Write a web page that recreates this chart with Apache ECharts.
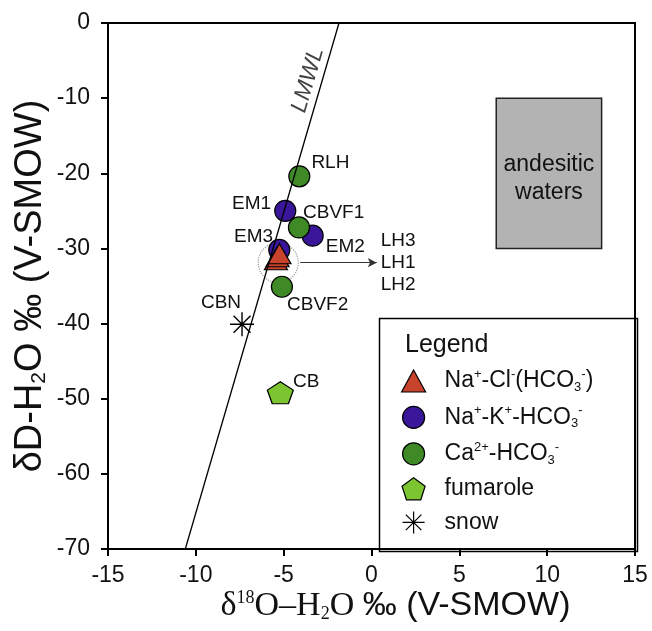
<!doctype html>
<html lang="en">
  <head>
    <meta charset="UTF-8" />
    <title>dD vs d18O</title>
    <script src="https://cdn.jsdelivr.net/npm/echarts@6/dist/echarts.min.js"></script>
    <style>
      html, body { margin: 0; background: #fff; }
      #chart { width: 652px; height: 631px; }
    </style>
  </head>
  <body>
    <div id="chart"></div>
    <script>
      // samples: [d18O, dD, name], listed in drawing order
      const naCl = [[-5.44, -31.5, 'LH2'], [-5.35, -31.1, 'LH1'], [-5.24, -30.7, 'LH3']];
      const naK = [[-4.91, -25.0, 'EM1'], [-3.35, -28.3, 'EM2'], [-5.25, -30.2, 'EM3']];
      const caHco3 = [[-4.11, -20.4, 'RLH'], [-4.13, -27.2, 'CBVF1'], [-5.1, -35.1, 'CBVF2']];
      const fumarole = [[-5.19, -49.2, 'CB']];
      const snow = [[-7.37, -40.1, 'CBN']];

      // local meteoric water line end points
      const lmwl = [[-10.6, -70], [-1.85, 0]];
      const lmwlLabelAt = [-3.62, -7.6];
      // andesitic waters field
      const andesiticX = [7.1, 13.1];
      const andesiticY = [-30, -10];
      // the circled LH cluster and its arrow
      const lhCircle = [-5.31, -31.9];
      const lhArrow = [[-4.06, -31.9], [0.3, -31.9]];
      const lhNames = ['LH3', 'LH1', 'LH2'];

      const xRange = [-15, 15, 5];
      const yRange = [-70, 0, 10];

      const FONT = 'Liberation Sans, Arial, sans-serif';
      const SERIF = 'Liberation Serif, Times New Roman, serif';

      // where each sample name sits around its marker
      const labelPlace = {
        RLH: { position: 'right', distance: 1, offset: [0, -14] },
        EM1: { position: 'left', distance: 3, offset: [0, -7] },
        CBVF1: { position: 'right', distance: 5, offset: [-12, -15] },
        EM2: { position: 'right', distance: 5, offset: [-3, 11] },
        EM3: { position: 'left', distance: 5, offset: [10, -13] },
        CBVF2: { position: 'right', distance: 5, offset: [-11, 18] },
        CBN: { position: 'top', distance: 5, offset: [-21, 6] },
        CB: { position: 'right', distance: 5, offset: [-6, -11] },
      };

      const toPoints = (arr) =>
        arr.map((d) => ({
          name: d[2],
          value: [d[0], d[1]],
          label: labelPlace[d[2]] ? Object.assign({ show: true }, labelPlace[d[2]]) : { show: false },
        }));

      const pointLabel = { formatter: '{b}', fontSize: 19, color: '#111', fontFamily: FONT };
      const border = { borderColor: '#000', borderWidth: 1.2, opacity: 1 };

      const rich = {
        t: { fontSize: 23, lineHeight: 26, color: '#111', fontFamily: FONT },
        sup: { fontSize: 13, lineHeight: 13, verticalAlign: 'top', color: '#111', fontFamily: FONT },
        sub: { fontSize: 13, lineHeight: 13, verticalAlign: 'bottom', color: '#111', fontFamily: FONT },
      };
      const legendText = {
        naCl: '{t|Na}{sup|+}{t|-Cl}{sup|-}{t|(HCO}{sub|3}{sup|-}{t|)}',
        naK: '{t|Na}{sup|+}{t|-K}{sup|+}{t|-HCO}{sub|3}{sup|-}',
        ca: '{t|Ca}{sup|2+}{t|-HCO}{sub|3}{sup|-}',
        fumarole: '{t|fumarole}',
        snow: '{t|snow}',
      };

      const chart = echarts.init(document.getElementById('chart'));
      chart.setOption({
        animation: false,
        textStyle: { fontFamily: FONT },
        grid: { left: 108, right: 17, top: 23, bottom: 82, show: true, borderColor: '#000', borderWidth: 2 },
        title: {
          text: 'Legend',
          left: 405,
          top: 333,
          padding: 0,
          textStyle: { fontSize: 25, fontWeight: 'normal', color: '#111', fontFamily: FONT },
        },
        legend: {
          orient: 'vertical',
          left: 401,
          top: 368,
          padding: 0,
          itemWidth: 24,
          itemHeight: 22,
          itemGap: 10.4,
          selectedMode: false,
          data: ['naCl', 'naK', 'ca', 'fumarole', 'snow'],
          formatter: (n) => legendText[n],
          itemStyle: { borderWidth: 1.2, opacity: 1 },
          textStyle: { padding: [0, 0, 0, 14], rich: rich },
        },
        graphic: [
          {
            type: 'rect',
            left: 377,
            top: 316,
            shape: { width: 258, height: 233 },
            style: { fill: 'none', stroke: '#000', lineWidth: 1.5 },
          },
        ],
        xAxis: {
          type: 'value',
          min: xRange[0],
          max: xRange[1],
          interval: xRange[2],
          splitLine: { show: false },
          axisLine: { show: true, onZero: false, lineStyle: { color: '#000', width: 2 } },
          axisTick: { show: true, length: 7, lineStyle: { color: '#000', width: 2 } },
          axisLabel: { fontSize: 23, color: '#111', margin: 15, fontFamily: FONT },
          name: '{g|δ}{gsup|18}{g|O–H}{gsub|2}{g|O }{s|‰ (V-SMOW)}',
          nameLocation: 'middle',
          nameGap: 40,
          nameMoveOverlap: false,
          nameTextStyle: {
            padding: [0, 0, 0, 48],
            rich: {
              g: { fontSize: 34, fontFamily: SERIF, color: '#111' },
              gsup: { fontSize: 18, fontFamily: SERIF, color: '#111', verticalAlign: 'top', lineHeight: 18 },
              gsub: { fontSize: 18, fontFamily: SERIF, color: '#111', verticalAlign: 'bottom', lineHeight: 18 },
              s: { fontSize: 34, fontFamily: FONT, color: '#111' },
            },
          },
        },
        yAxis: {
          type: 'value',
          min: yRange[0],
          max: yRange[1],
          interval: yRange[2],
          splitLine: { show: false },
          axisLine: { show: true, onZero: false, lineStyle: { color: '#000', width: 2 } },
          axisTick: { show: true, length: 7, lineStyle: { color: '#000', width: 2 } },
          axisLabel: { fontSize: 23, color: '#111', margin: 18, fontFamily: FONT },
          name: '{s|δD-H}{sub|2}{s|O ‰ (V-SMOW)}',
          nameLocation: 'middle',
          nameGap: 58,
          nameMoveOverlap: false,
          nameTextStyle: {
            rich: {
              s: { fontSize: 38, fontFamily: FONT, color: '#111' },
              sub: { fontSize: 21, fontFamily: FONT, color: '#111', verticalAlign: 'bottom', lineHeight: 21 },
            },
          },
        },
        series: [
          {
            name: 'LMWL',
            type: 'line',
            data: lmwl,
            symbol: 'none',
            silent: true,
            lineStyle: { color: '#000', width: 1.3 },
            markArea: {
              silent: true,
              itemStyle: { color: '#b3b3b3', borderColor: '#222', borderWidth: 1.5 },
              label: {
                show: true,
                position: 'inside',
                formatter: 'andesitic\nwaters',
                fontSize: 23,
                lineHeight: 28,
                color: '#111',
                fontFamily: FONT,
                offset: [0, 5],
              },
              data: [[{ coord: [andesiticX[0], andesiticY[1]] }, { coord: [andesiticX[1], andesiticY[0]] }]],
            },
          },
          {
            name: 'lmwlLabel',
            type: 'scatter',
            data: [lmwlLabelAt],
            symbolSize: 0,
            silent: true,
            label: {
              show: true,
              position: 'inside',
              formatter: 'LMWL',
              rotate: 73.7,
              fontSize: 23,
              fontStyle: 'italic',
              color: '#111',
              fontFamily: FONT,
            },
          },
          {
            name: 'lhCircle',
            type: 'scatter',
            data: [lhCircle],
            symbol: 'circle',
            symbolSize: 40,
            silent: true,
            itemStyle: { color: 'transparent', borderColor: '#9a9a9a', borderWidth: 1.2, borderType: 'dotted', opacity: 1 },
            markLine: {
              silent: true,
              symbol: ['none', 'arrow'],
              symbolSize: [7, 9],
              lineStyle: { color: '#333', width: 1, type: 'solid' },
              label: {
                show: true,
                position: 'end',
                distance: 4,
                formatter: lhNames.join('\n'),
                fontSize: 19,
                lineHeight: 22,
                color: '#111',
                fontFamily: FONT,
              },
              data: [[{ coord: lhArrow[0] }, { coord: lhArrow[1] }]],
            },
          },
          {
            name: 'naK',
            type: 'scatter',
            data: toPoints(naK),
            symbol: 'circle',
            symbolSize: 21,
            itemStyle: Object.assign({ color: '#3a169a' }, border),
            label: pointLabel,
          },
          {
            name: 'ca',
            type: 'scatter',
            data: toPoints(caHco3),
            symbol: 'circle',
            symbolSize: 21,
            itemStyle: Object.assign({ color: '#3f8a27' }, border),
            label: pointLabel,
          },
          {
            name: 'naCl',
            type: 'scatter',
            data: toPoints(naCl),
            symbol: 'triangle',
            symbolSize: [23, 20],
            itemStyle: Object.assign({ color: '#c8432b' }, border),
            label: pointLabel,
          },
          {
            name: 'fumarole',
            type: 'scatter',
            data: toPoints(fumarole),
            symbol: 'path://M0,-10L9.5,-3.1L5.9,8.1L-5.9,8.1L-9.5,-3.1Z',
            symbolSize: [26, 22],
            itemStyle: Object.assign({ color: '#7cc531' }, border),
            label: pointLabel,
          },
          {
            name: 'snow',
            type: 'scatter',
            data: toPoints(snow),
            symbol: 'path://M0,-10L0,10M-10,0L10,0M-7.07,-7.07L7.07,7.07M-7.07,7.07L7.07,-7.07',
            symbolSize: 24,
            itemStyle: { color: '#000', borderColor: '#000', borderWidth: 1.4, opacity: 1 },
            label: pointLabel,
          },
        ],
      });
    </script>
  </body>
</html>
